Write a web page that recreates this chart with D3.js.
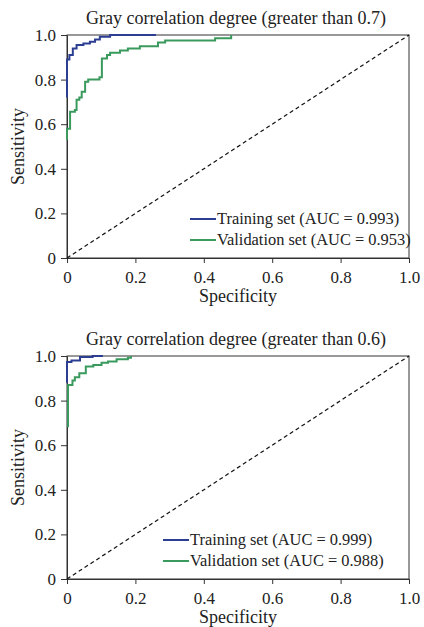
<!DOCTYPE html>
<html>
<head>
<meta charset="utf-8">
<script src="https://cdn.jsdelivr.net/npm/d3@7"></script>
<style>
  body { margin: 0; background: #fff; }
  text { font-family: "Liberation Serif", "Times New Roman", serif; fill: #222; }
</style>
</head>
<body>
<script>

// tick values and labels (shared by both panels)
tickValues = [0, 0.2, 0.4, 0.6, 0.8, 1.0]
tickLabels = ["0", "0.2", "0.4", "0.6", "0.8", "1.0"]

// panel 1 : greater than 0.7
title1 = "Gray correlation degree (greater than 0.7)"
train1Spec = [0, 0, 0.007, 0.017, 0.028, 0.048, 0.067, 0.082, 0.096, 0.126, 0.26]
train1Sens = [0.72, 0.89, 0.91, 0.94, 0.955, 0.962, 0.97, 0.98, 0.992, 1.0, 1.0]
valid1Spec = [0, 0, 0.009, 0.009, 0.023, 0.028, 0.036, 0.043, 0.053, 0.062, 0.095, 0.102, 0.117, 0.126, 0.155, 0.178, 0.213, 0.266, 0.287, 0.433, 0.48]
valid1Sens = [0.53, 0.58, 0.59, 0.656, 0.664, 0.71, 0.72, 0.746, 0.79, 0.80, 0.81, 0.895, 0.91, 0.92, 0.93, 0.94, 0.95, 0.966, 0.975, 0.985, 1.0]
legend1 = ["Training set (AUC = 0.993)", "Validation set (AUC = 0.953)"]

// panel 2 : greater than 0.6
title2 = "Gray correlation degree (greater than 0.6)"
train2Spec = [0, 0, 0.013, 0.038, 0.075, 0.105]
train2Sens = [0.88, 0.973, 0.98, 0.995, 1.0, 1.0]
valid2Spec = [0.003, 0.003, 0.016, 0.023, 0.036, 0.055, 0.077, 0.101, 0.12, 0.145, 0.178, 0.187]
valid2Sens = [0.68, 0.87, 0.89, 0.905, 0.923, 0.953, 0.96, 0.97, 0.975, 0.985, 0.992, 1.0]
legend2 = ["Training set (AUC = 0.999)", "Validation set (AUC = 0.988)"]

seriesColors = ["#2c3e92", "#3a9a5e"]

width = 424
height = 627
left = 67
plotW = 342
plotH = 223

var svg = d3.select("body").append("svg")
    .attr("width", width)
    .attr("height", height)

x = d3.scaleLinear().domain([0, 1]).range([0, plotW])
y = d3.scaleLinear().domain([0, 1]).range([plotH, 0])

function zip(a, b) {
  return a.map((v, i) => [v, b[i]])
}

function panel(top, title, curves, legendText, legendX) {
  var g = svg.append("g").attr("transform", `translate(${left},${top})`)

  // title
  g.append("text")
      .attr("x", plotW / 2 - 2)
      .attr("y", -11)
      .attr("text-anchor", "middle")
      .attr("font-size", 18)
      .text(title)

  // x axis
  g.append("g")
      .attr("transform", `translate(0,${plotH})`)
      .call(d3.axisBottom(x).tickValues(tickValues)
        .tickFormat((d, i) => tickLabels[i]).tickSize(5).tickSizeOuter(0).tickPadding(8))
      .call(a => a.selectAll("text").attr("font-size", 17).attr("font-family", "Liberation Serif"))
      .call(a => a.selectAll("line,path").attr("stroke", "#333"))

  // y axis
  g.append("g")
      .call(d3.axisLeft(y).tickValues(tickValues)
        .tickFormat((d, i) => tickLabels[i]).tickSize(6).tickSizeOuter(0).tickPadding(5))
      .call(a => a.selectAll("text").attr("font-size", 17).attr("font-family", "Liberation Serif"))
      .call(a => a.selectAll("line,path").attr("stroke", "#333"))

  // frame
  g.append("rect")
      .attr("x", 0).attr("y", 0)
      .attr("width", plotW).attr("height", plotH)
      .attr("fill", "none")
      .attr("stroke", "#333")

  // axis labels
  g.append("text")
      .attr("x", plotW / 2)
      .attr("y", plotH + 44)
      .attr("text-anchor", "middle")
      .attr("font-size", 18)
      .text("Specificity")

  g.append("text")
      .attr("transform", `translate(${-43},${plotH / 2}) rotate(-90)`)
      .attr("text-anchor", "middle")
      .attr("font-size", 18)
      .text("Sensitivity")

  // diagonal reference
  g.append("line")
      .attr("x1", x(0)).attr("y1", y(0))
      .attr("x2", x(1)).attr("y2", y(1))
      .attr("stroke", "#111")
      .attr("stroke-width", 1.2)
      .attr("stroke-dasharray", "4,3")

  var line = d3.line()
      .x(d => x(d[0]))
      .y(d => y(d[1]))
      .curve(d3.curveStepAfter)

  // validation drawn first, training on top
  curves.slice().reverse().forEach((c, k) => {
    var idx = curves.length - 1 - k
    g.append("path")
        .datum(c)
        .attr("fill", "none")
        .attr("stroke", seriesColors[idx])
        .attr("stroke-width", 2)
        .attr("d", line)
  })

  // legend
  var rows = g.append("g")
      .selectAll("g")
      .data(legendText)
      .join("g")
        .attr("transform", (d, i) => `translate(${legendX},${184 + i * 21})`)

  rows.append("line")
      .attr("x1", 0).attr("x2", 26)
      .attr("stroke", (d, i) => seriesColors[i])
      .attr("stroke-width", 2)

  rows.append("text")
      .attr("x", 27)
      .attr("y", 5)
      .attr("font-size", 16.4)
      .text(d => d)
}

panel(35, title1, [zip(train1Spec, train1Sens), zip(valid1Spec, valid1Sens)], legend1, 123)
panel(356, title2, [zip(train2Spec, train2Sens), zip(valid2Spec, valid2Sens)], legend2, 96)

</script>
</body>
</html>
